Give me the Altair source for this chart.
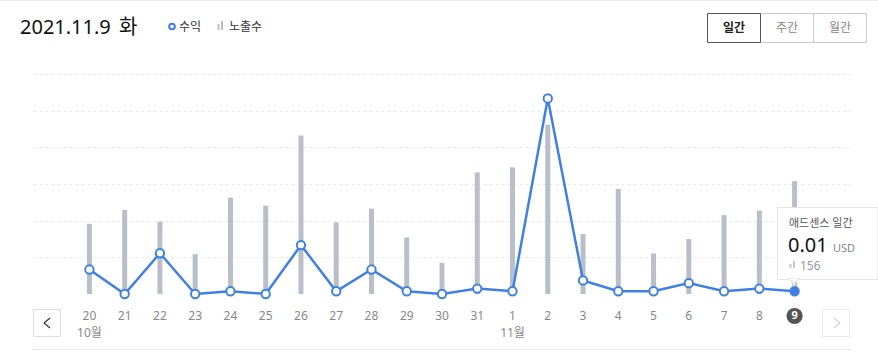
import altair as alt
import pandas as pd

# ---- data ----
days = ["20", "21", "22", "23", "24", "25", "26", "27", "28", "29", "30", "31",
        "1", "2", "3", "4", "5", "6", "7", "8", "9"]
impressions = [97, 116, 100, 55, 133, 122, 219, 99, 118, 78, 43, 168,
               175, 234, 83, 145, 56, 76, 109, 115, 156]
revenue = [0.09, 0.00, 0.15, 0.00, 0.01, 0.00, 0.18, 0.01, 0.09, 0.01, 0.00, 0.02,
           0.01, 0.72, 0.05, 0.01, 0.01, 0.04, 0.01, 0.02, 0.01]
month_of_day = {"20": "10월", "1": "11월"}
selected_day = "9"
title_date = "2021.11.9"
title_weekday = "화"
tabs = ["일간", "주간", "월간"]
legend_labels = ["수익", "노출수"]
tooltip_title = "애드센스 일간"
currency = "USD"

IMP_MAX = 304
REV_MAX = 0.81
grid_values = [IMP_MAX * k / 6 for k in range(1, 7)]

df = pd.DataFrame({
    "idx": list(range(len(days))),
    "day": days,
    "impressions": impressions,
    "revenue": revenue,
    "month": [month_of_day.get(d, "") for d in days],
})

# ---- layout ----
W, H = 878, 354
OX, OY = 33, 74          # plot origin
PW, PH = 818, 220        # plot size
PAD = 1.6                # outer padding in day steps
FONT = "'Noto Sans', 'Noto Sans CJK KR', sans-serif"
BLUE = "#3f80e2"
BAR = "#b8bfc8"

one = pd.DataFrame({"k": [0]})


def txt(x, y, s, size=12, color="#333", align="left", baseline="middle", weight="normal"):
    return alt.Chart(one).mark_text(
        text=s, fontSize=size, color=color, align=align, baseline=baseline,
        fontWeight=weight, font=FONT
    ).encode(x=alt.value(x - OX), y=alt.value(y - OY))


def rect(x1, y1, x2, y2, fill="white", stroke="#ccc", sw=1):
    return alt.Chart(one).mark_rect(fill=fill, stroke=stroke, strokeWidth=sw).encode(
        x=alt.value(x1 - OX), x2=alt.value(x2 - OX),
        y=alt.value(y1 - OY), y2=alt.value(y2 - OY))


def seg(x1, y1, x2, y2, color="#333", sw=1):
    return alt.Chart(one).mark_rule(color=color, strokeWidth=sw).encode(
        x=alt.value(x1 - OX), x2=alt.value(x2 - OX),
        y=alt.value(y1 - OY), y2=alt.value(y2 - OY))


x_enc = alt.X("idx:Q", axis=None,
              scale=alt.Scale(domain=[-PAD, len(days) - 1 + PAD], nice=False,
                              zero=False, padding=0))

base = alt.Chart(df)

bars = base.mark_bar(size=5, color=BAR).encode(
    x=x_enc,
    y=alt.Y("impressions:Q",
            scale=alt.Scale(domain=[0, IMP_MAX], nice=False, padding=0),
            axis=alt.Axis(values=grid_values, grid=True, labels=False, ticks=False,
                          domain=False, title=None, gridDash=[3, 3],
                          gridColor="#e6e6e6", gridWidth=1)),
)

rev_scale = alt.Scale(domain=[0, REV_MAX], nice=False, padding=0)
line = base.mark_line(color=BLUE, strokeWidth=2.5).encode(
    x=x_enc, y=alt.Y("revenue:Q", scale=rev_scale, axis=None))
points = base.mark_point(filled=True, shape="circle", size=70, stroke=BLUE,
                         strokeWidth=2, opacity=1).encode(
    x=x_enc, y=alt.Y("revenue:Q", scale=rev_scale, axis=None),
    fill=alt.condition(alt.datum.day == selected_day, alt.value(BLUE), alt.value("white")))

# x labels
day_labels = base.mark_text(fontSize=12, color="#888", font=FONT, baseline="middle").encode(
    x=x_enc, y=alt.value(316 - OY), text="day:N",
    opacity=alt.condition(alt.datum.day == selected_day, alt.value(0), alt.value(1)))
month_labels = base.transform_filter(alt.datum.month != "").mark_text(
    fontSize=12, color="#888", font=FONT, baseline="middle").encode(
    x=x_enc, y=alt.value(333 - OY), text="month:N")
sel_circle = base.transform_filter(alt.datum.day == selected_day).mark_point(
    filled=True, shape="circle", size=260, color="#555", opacity=1).encode(
    x=x_enc, y=alt.value(316 - OY))
sel_label = base.transform_filter(alt.datum.day == selected_day).mark_text(
    fontSize=11, color="white", fontWeight="bold", font=FONT, baseline="middle").encode(
    x=x_enc, y=alt.value(316 - OY), text="day:N")

# header
header = [
    seg(0, 0.5, W, 0.5, color="#ececec", sw=1),
    txt(20, 34, title_date, size=20, color="#111", baseline="alphabetic"),
    txt(119, 34, title_weekday, size=20, color="#111", baseline="alphabetic"),
    alt.Chart(one).mark_point(shape="circle", size=32, stroke=BLUE, strokeWidth=2,
                              filled=True, fill="white", opacity=1).encode(
        x=alt.value(172 - OX), y=alt.value(26.5 - OY)),
    txt(179, 26.5, legend_labels[0], size=12, color="#333"),
    seg(218.5, 24, 218.5, 30, color="#b8bfc8", sw=2),
    seg(222, 21, 222, 30, color="#b8bfc8", sw=2),
    txt(229, 26.5, legend_labels[1], size=12, color="#333"),
    rect(760.5, 13.5, 813.5, 42.5, stroke="#cccccc"),
    rect(813.5, 13.5, 866.5, 42.5, stroke="#cccccc"),
    rect(707.5, 13.5, 760.5, 42.5, stroke="#555555"),
    txt(734, 28, tabs[0], size=12, color="#222", align="center", weight="bold"),
    txt(787, 28, tabs[1], size=12, color="#888", align="center"),
    txt(840, 28, tabs[2], size=12, color="#888", align="center"),
]

# nav + bottom line
nav = [
    rect(33.5, 309.5, 60.5, 336.5, stroke="#dddddd"),
    seg(50, 318, 44, 323, color="#333", sw=1.2),
    seg(44, 323, 50, 328, color="#333", sw=1.2),
    rect(822.5, 309.5, 849.5, 336.5, stroke="#e6e6e6"),
    seg(834, 318, 840, 323, color="#d5d5d5", sw=1.2),
    seg(840, 323, 834, 328, color="#d5d5d5", sw=1.2),
    seg(33, 349.5, 851, 349.5, color="#e6e6e6", sw=1),
]

# tooltip
sel = base.transform_filter(alt.datum.day == selected_day)
tooltip = [
    rect(777.5, 207.5, 878, 279.5, stroke="#e3e3e3"),
    alt.Chart(one).mark_point(shape="triangle-down", size=45, filled=True,
                              fill="white", stroke="#e3e3e3", opacity=1).encode(
        x=alt.value(794 - OX), y=alt.value(282 - OY)),
    seg(790, 279.5, 798, 279.5, color="white", sw=1.5),
    txt(789, 224, tooltip_title, size=11, color="#555"),
    sel.mark_text(fontSize=20, color="#111", align="left", baseline="alphabetic",
                  font=FONT).encode(
        x=alt.value(788 - OX), y=alt.value(252 - OY),
        text=alt.Text("revenue:Q", format=".2f")),
    txt(833, 252, currency, size=11, color="#888", baseline="alphabetic"),
    seg(790.5, 264, 790.5, 268, color="#c5c5c5", sw=2),
    seg(794, 261, 794, 268, color="#c5c5c5", sw=2),
    sel.mark_text(fontSize=12, color="#999", align="left", baseline="middle",
                  font=FONT).encode(
        x=alt.value(800 - OX), y=alt.value(266 - OY),
        text=alt.Text("impressions:Q")),
]

chart = alt.layer(
    bars, line, points, day_labels, month_labels, sel_circle, sel_label,
    *header, *nav, *tooltip
).resolve_scale(y="independent").properties(
    width=PW, height=PH,
    autosize=alt.AutoSizeParams(type="none"),
    padding={"left": OX, "top": OY, "right": W - OX - PW, "bottom": H - OY - PH},
    background="white",
).configure_view(stroke=None)

chart.save("out.html", embed_options={"renderer": "svg", "actions": False})
